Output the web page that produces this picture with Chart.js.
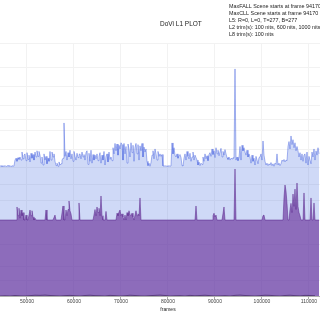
<!DOCTYPE html>
<html><head><meta charset="utf-8">
<script src="https://cdn.jsdelivr.net/npm/chart.js@4"></script>
<style>html,body{margin:0;padding:0;background:#fff;overflow:hidden}</style>
</head><body>
<canvas id="c" width="320" height="320"></canvas>
<script>
// frame axis: first sample frame and frames per sample
const frameStart = 44255;
const frameStep = 212.8;
const xTickValues = [50000, 60000, 70000, 80000, 90000, 100000, 110000];
const nitsTicks = [0.1, 0.5, 2.5, 10, 25, 50, 100, 200, 400, 600, 1000, 2000, 4000, 10000];
const titleText = 'DoVi L1 PLOT';
const infoLines = [
  'MaxFALL Scene starts at frame 94170',
  'MaxCLL Scene starts at frame 94170',
  'L5: R=0, L=0, T=277, B=277',
  'L2 trim(s): 100 nits, 600 nits, 1000 nits',
  'L8 trim(s): 100 nits'
];
const xTitle = 'frames';

// 12-bit PQ codes
const maxPq = [
2100,2110,2095,2105,2100,2110,2098,2105,2112,2100,2106,2098,2110,2102,2108,2200,2230,2180,2240,2210,
2250,2200,2330,2220,2280,2300,2190,2320,2210,2280,2170,2310,2230,2290,2200,2330,2250,2350,2260,2340,
2280,2150,2250,2120,2300,2200,2260,2140,2230,2180,2340,2200,2330,2250,2300,2180,2110,2150,2100,2170,
2120,2140,2200,2230,2801,2260,2340,2200,2320,2250,2360,2220,2300,2180,2340,2260,2200,2310,2240,2290,
2300,2220,2330,2250,2290,2200,2320,2350,2130,2310,2180,2360,2150,2290,2200,2280,2220,2300,2190,2260,
2320,2150,2280,2200,2340,2120,2260,2300,2170,2330,2210,2250,2190,2400,2300,2470,2350,2460,2280,2440,
2380,2480,2450,2200,2470,2300,2420,2150,2460,2380,2250,2480,2320,2440,2180,2400,2470,2300,2450,2200,
2430,2350,2470,2250,2410,2330,2380,2180,2110,2150,2100,2160,2280,2350,2220,2380,2300,2200,2340,2260,
2300,2260,2290,2105,2100,2110,2100,2105,2100,2110,2100,2105,2477,2300,2400,2280,2250,2300,2230,2270,
2290,2240,2110,2105,2230,2300,2200,2340,2260,2220,2310,2180,2250,2330,2200,2280,2240,2200,2120,2170,
2110,2150,2130,2250,2180,2300,2220,2270,2190,2290,2320,2260,2380,2290,2350,2240,2400,2300,2360,2270,
2330,2390,2250,2340,2280,2370,2300,2240,2210,2250,2200,2230,2220,2240,2230,3675,2200,2250,2190,2240,
2420,2200,2440,2350,2400,2330,2280,2360,2250,2300,2250,2150,2280,2180,2230,2120,2260,2200,2140,2240,
2250,2300,2200,2509,2280,2180,2120,2150,2110,2140,2120,2160,2110,2140,2100,2150,2130,2300,2120,2150,
2110,2140,2200,2180,2210,2170,2200,2190,2420,2500,2380,2590,2450,2530,2400,2480,2350,2420,2350,2250,
2320,2200,2300,2180,2280,2300,2150,2330,2120,2260,2200,2140,2330,2250,2380,2200,2350,2280,2400,2300
];
const avgPq = [
1230,1230,1230,1230,1230,1230,1230,1230,1230,1230,1230,1230,1230,1230,1230,1230,1230,1441,1300,1420,
1260,1392,1300,1350,1230,1230,1310,1230,1230,1230,1392,1300,1380,1280,1230,1260,1230,1230,1230,1230,
1230,1230,1230,1230,1230,1230,1392,1230,1230,1230,1230,1230,1230,1230,1230,1310,1230,1230,1230,1230,
1230,1230,1230,1457,1230,1230,1392,1300,1400,1538,1380,1330,1230,1230,1230,1230,1230,1230,1230,1506,
1230,1230,1230,1230,1230,1230,1230,1230,1230,1230,1230,1230,1230,1230,1230,1400,1300,1441,1350,1420,
1300,1619,1300,1230,1230,1230,1370,1230,1230,1230,1230,1230,1230,1230,1230,1230,1230,1340,1300,1360,
1392,1300,1330,1280,1230,1310,1230,1350,1300,1380,1320,1300,1340,1280,1230,1310,1380,1300,1330,1300,
1587,1230,1230,1230,1230,1230,1230,1230,1230,1230,1230,1230,1230,1230,1230,1230,1230,1230,1230,1230,
1230,1230,1230,1230,1230,1230,1230,1230,1230,1230,1230,1230,1230,1230,1230,1230,1230,1230,1230,1230,
1230,1230,1230,1230,1230,1230,1230,1230,1230,1230,1230,1230,1230,1230,1230,1230,1457,1230,1230,1230,
1230,1230,1230,1230,1230,1230,1230,1230,1230,1230,1230,1230,1230,1300,1340,1280,1310,1230,1230,1230,
1230,1230,1230,1230,1441,1230,1230,1230,1230,1230,1230,1230,1230,1230,1230,2056,1230,1230,1230,1230,
1230,1230,1230,1230,1230,1230,1230,1230,1230,1230,1230,1230,1230,1230,1230,1230,1230,1230,1230,1230,
1230,1230,1230,1300,1310,1230,1230,1230,1230,1230,1230,1230,1230,1230,1230,1230,1230,1230,1230,1230,
1230,1230,1230,1230,1600,1797,1700,1500,1230,1230,1400,1500,1350,1650,1450,1730,1400,1829,1450,1350,
1300,1230,1230,1230,1668,1230,1230,1230,1230,1230,1230,1587,1230,1230,1506,1230,1230,1230,1230,1230
];
// minimum PQ, one value every 5 samples
const minPq = [
0,4,0,8,2,0,6,12,10,14,8,4,0,6,10,4,0,8,12,6,
4,0,10,6,0,4,12,8,2,0,6,10,14,8,0,4,6,0,10,4,
8,12,6,0,2,6,0,10,14,8,4,0,6,12,10,4,0,8,12,6,
2,10,8,4
];
const minStepSamples = 5;

function pqCode(nits) {
  const m1 = 0.1593017578125, m2 = 78.84375, c1 = 0.8359375, c2 = 18.8515625, c3 = 18.6875;
  const y = Math.pow(nits / 10000, m1);
  return Math.pow((c1 + c2 * y) / (1 + c3 * y), m2) * 4095;
}

const maxPts = maxPq.map((v, i) => ({x: frameStart + i * frameStep, y: v}));
const avgPts = avgPq.map((v, i) => ({x: frameStart + i * frameStep, y: v}));
const minPts = minPq.map((v, i) => ({x: frameStart + i * minStepSamples * frameStep, y: v}));

const textPlugin = {
  id: 'texts',
  afterDraw(chart) {
    const ctx = chart.ctx;
    ctx.save();
    ctx.fillStyle = '#222';
    ctx.textBaseline = 'middle';
    ctx.textAlign = 'left';
    ctx.font = '6.5px "Liberation Sans", Arial, sans-serif';
    ctx.fillText(titleText, 160, 24);
    ctx.font = '5.4px "Liberation Sans", Arial, sans-serif';
    infoLines.forEach((t, i) => ctx.fillText(t, 229, 6.3 + i * 7));
    ctx.textAlign = 'center';
    ctx.font = '5px "Liberation Sans", Arial, sans-serif';
    ctx.fillText(xTitle, 168, 309.5);
    ctx.restore();
  }
};

new Chart(document.getElementById('c'), {
  type: 'line',
  data: {
    datasets: [
      {data: minPts, borderColor: 'rgba(30,8,50,0.6)', borderWidth: 0.8, fill: false, pointRadius: 0, order: 0},
      {data: avgPts, borderColor: 'rgba(85,30,135,0.6)', backgroundColor: 'rgba(100,40,150,0.61)', borderWidth: 0.8, fill: 'origin', pointRadius: 0, order: 1},
      {data: maxPts, borderColor: 'rgba(60,90,220,0.55)', backgroundColor: 'rgba(65,105,225,0.25)', borderWidth: 0.8, fill: 'origin', pointRadius: 0, order: 2}
    ]
  },
  options: {
    responsive: false,
    animation: false,
    events: [],
    layout: {padding: {top: 43, left: 0, right: 0, bottom: 0}},
    elements: {line: {tension: 0}},
    plugins: {legend: {display: false}, title: {display: false}, tooltip: {enabled: false}},
    scales: {
      x: {
        type: 'linear',
        min: frameStart,
        max: frameStart + maxPq.length * frameStep,
        afterBuildTicks: s => { s.ticks = xTickValues.map(v => ({value: v})); },
        afterFit: s => { s.height = 24; },
        ticks: {font: {size: 5, family: '"Liberation Sans", Arial'}, color: '#444', padding: 0, maxRotation: 0, autoSkip: false, callback: v => String(v)},
        grid: {color: '#f2f2f2', lineWidth: 1, tickLength: 3, tickColor: '#aaa'},
        border: {color: '#b0b0b0', width: 1}
      },
      y: {
        min: 0, max: 4095,
        afterBuildTicks: s => { s.ticks = nitsTicks.map(n => ({value: pqCode(n)})); },
        afterFit: s => { s.width = 0; },
        ticks: {display: false},
        grid: {color: '#f2f2f2', lineWidth: 1, drawTicks: false},
        border: {display: false}
      }
    }
  },
  plugins: [textPlugin]
});
</script>
</body></html>
